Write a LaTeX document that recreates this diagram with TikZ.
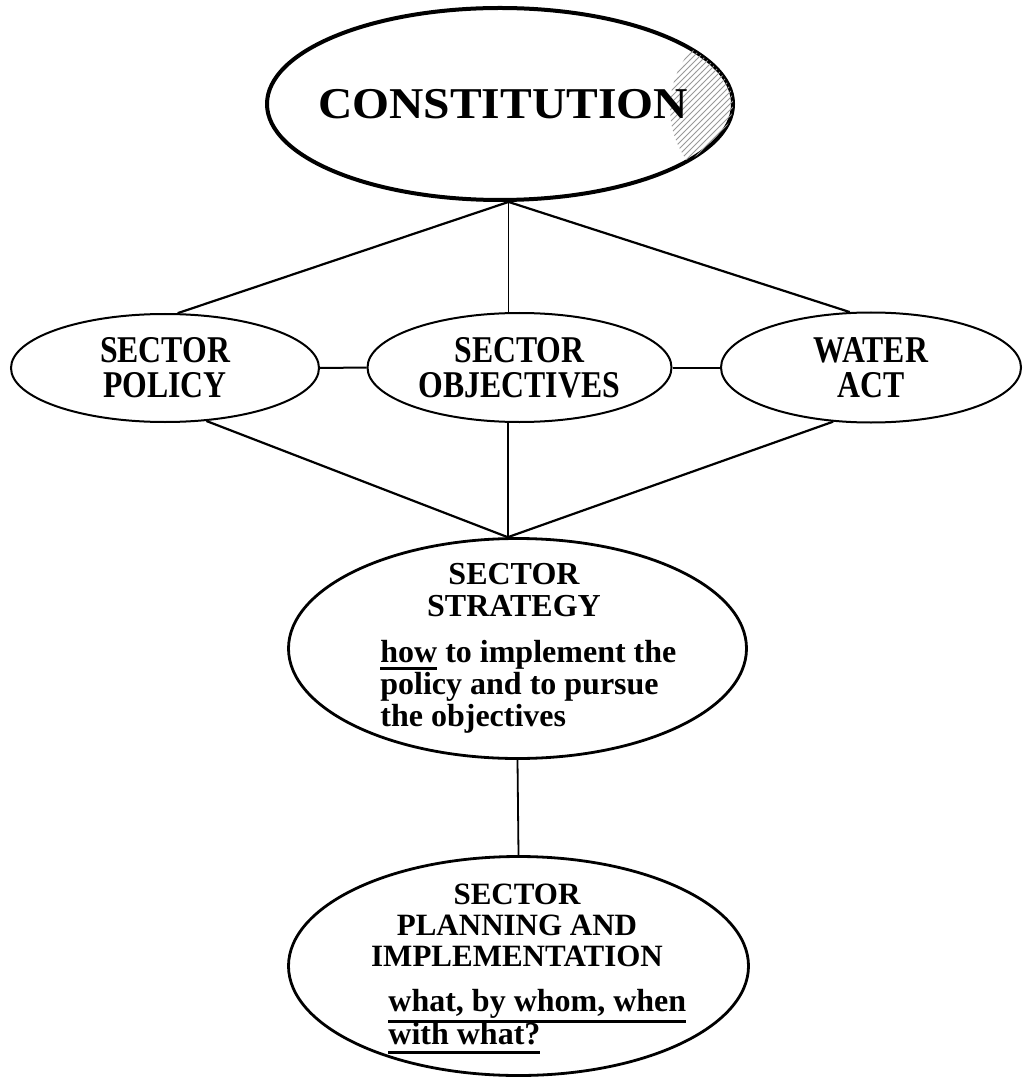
\documentclass[tikz,border=0pt]{standalone}
\usepackage{fontspec}
\setmainfont{Liberation Serif}
\newfontfamily\narrowfont{Liberation Serif}[FakeStretch=0.84]
\newfontfamily\widefont{Liberation Serif}[FakeStretch=1.08]
\usepackage{tikz}
\usetikzlibrary{shapes,positioning,patterns}

\newsavebox\undlbox
\newcommand{\undl}[2][-5pt]{\sbox\undlbox{#2}\rlap{\smash{\rule[#1]{\wd\undlbox}{1.3pt}}}\usebox\undlbox}

\begin{document}
\begin{tikzpicture}[x=0.5pt,y=-0.5pt]
      \tikzstyle{enode} = [draw=black, ellipse, inner sep=0pt]
      \tikzstyle{mnode} = [enode, line width=1pt, align=center, font=\narrowfont\bfseries\fontsize{18.9}{17.5}\selectfont]
      \tikzstyle{bnode} = [enode, line width=1.4pt]
      \tikzstyle{head} = [inner sep=0pt, align=center, font=\bfseries\fontsize{16}{16}\selectfont]
      \tikzstyle{note} = [inner sep=0pt, align=left, font=\bfseries\fontsize{16}{16}\selectfont]
      \tikzstyle{link} = [line width=1.1pt]

      \useasboundingbox (0,0) rectangle (1023,1080);

      % top
      \node[enode, line width=2pt, minimum width=233pt, minimum height=96pt] (const) at (500,104) {};
      \begin{scope}
        \clip (const.center) ellipse [x radius=116.5pt, y radius=48pt];
        \fill[pattern=north east lines, pattern color=black!40]
          ([xshift=130pt, yshift=-2pt]const.center) circle [radius=45pt];
      \end{scope}
      \node[inner sep=0pt, font=\widefont\bfseries\fontsize{22}{22}\selectfont] (consttxt) at (503,104.5) {CONSTITUTION};

      % middle row
      \node[mnode, minimum width=154pt, minimum height=54pt] (pol) at (165,368) {SECTOR\\POLICY};
      \node[mnode, minimum width=152pt, minimum height=54.5pt] (obj) at (519.5,367.5) {SECTOR\\OBJECTIVES};
      \node[mnode, minimum width=150pt, minimum height=55pt] (wact) at (871,367.5) {WATER\\ACT};

      % strategy
      \node[bnode, minimum width=229pt, minimum height=110pt] (strat) at (517.5,648.5) {};
      \node[head] (strathead) at (514,590) {SECTOR\\STRATEGY};
      \node[note, anchor=west] (stratnote) at (380,686.5) {\undl[-3.8pt]{how} to implement the\\policy and to pursue\\the objectives};

      % planning
      \node[bnode, minimum width=230pt, minimum height=109.5pt] (plan) at (518.5,966) {};
      \node[head, font=\bfseries\fontsize{15.5}{15.5}\selectfont] (planhead) at (517,925.5) {SECTOR\\PLANNING AND\\IMPLEMENTATION};
      \node[note, anchor=west, font=\bfseries\fontsize{16}{16.5}\selectfont] (plannote) at (388,1017.5) {\undl[-5.5pt]{what, by whom, when}\\\undl[-4.5pt]{with what?}};

      \draw[link] (const.-85) -- (pol.77);
      \draw[line width=0.8pt] (const.-85) -- (const.-85 |- obj.north);
      \draw[link] (const.-85) -- (wact.111);

      \draw[line width=1pt] (pol.east) -- (obj.west);
      \draw[line width=1pt] (obj.east) -- (wact.west);

      \draw[link] (pol.-52) -- (strat.95);
      \draw[line width=0.8pt] (obj.south -| strat.95) -- (strat.95);
      \draw[link] (wact.-125) -- (strat.95);

      \draw[line width=0.9pt] (strat.south) -- (plan.north);
\end{tikzpicture}
\end{document}
